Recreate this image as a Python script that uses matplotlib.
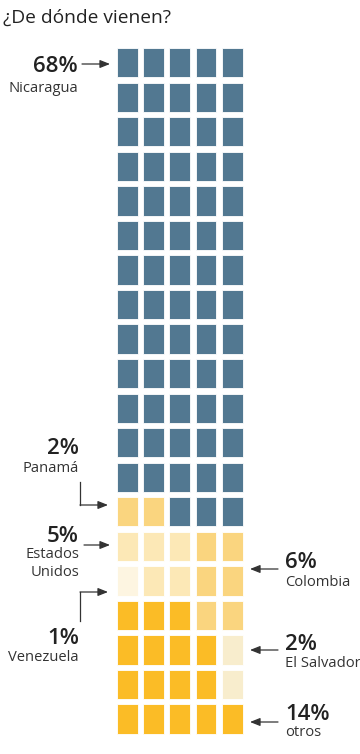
import matplotlib
matplotlib.use('Agg')
import matplotlib.pyplot as plt
from matplotlib.patches import Rectangle

# datos
paises = ['Nicaragua', 'Panamá', 'Estados\nUnidos', 'Venezuela', 'Colombia', 'El Salvador', 'otros']
porcentajes = [68, 2, 5, 1, 6, 2, 14]
codigos = ['N', 'P', 'U', 'V', 'C', 'S', 'O']
colores = ['#527891', '#FAD57F', '#FCE8B6', '#FDF5E1', '#FAD57F', '#F8EDCD', '#FBBC26']
# reparto de las celdas, fila por fila (5 columnas x 20 filas)
filas = ['NNNNN'] * 13 + ['PPNNN', 'UUUCC', 'VUUCC', 'OOOCC', 'OOOOS', 'OOOOS', 'OOOOO']

plt.rcParams['font.family'] = ['Open Sans', 'DejaVu Sans']

fig = plt.figure(figsize=(3.6, 7.54), dpi=100)
ax = fig.add_axes([0, 0, 1, 1])
ax.set_xlim(0, 360)
ax.set_ylim(754, 0)
ax.axis('off')

# geometria de la cuadricula (en pixeles)
x0, y0 = 117, 48
paso_x, paso_y = 26.2, 34.55
ancho, alto = 20.7, 29.3

for i, fila in enumerate(filas):
    for j, c in enumerate(fila):
        col = colores[codigos.index(c)]
        ax.add_patch(Rectangle((x0 + j * paso_x, y0 + i * paso_y), ancho, alto,
                               facecolor=col, edgecolor='white', linewidth=0.6))

ax.text(3, 23, '¿De dónde vienen?', fontsize=13.8, color='#222222', va='baseline')

oscuro = '#222222'
gris = '#333333'
flecha = dict(arrowstyle='-|>,head_length=0.6,head_width=0.24', color=gris, lw=0.9,
              shrinkA=0, shrinkB=0)


def etiqueta(k, x, y_pct, lado, y_nombre):
    ha = 'right' if lado == 'izq' else 'left'
    ax.text(x, y_pct, f'{porcentajes[k]}%', fontsize=16, fontweight='semibold', color=oscuro,
            ha=ha, va='baseline')
    for n, linea in enumerate(paises[k].split('\n')):
        ax.text(x, y_nombre + n * 18.5, linea, fontsize=10.6, color=gris, ha=ha,
                va='baseline')


# Nicaragua
etiqueta(0, 78, 72, 'izq', 92)
ax.annotate('', xy=(110, 64), xytext=(82, 64), arrowprops=flecha)

# Panamá
etiqueta(1, 79, 454, 'izq', 472)
ax.plot([80, 80], [482, 505], color=gris, lw=0.9)
ax.annotate('', xy=(108, 505), xytext=(80, 505), arrowprops=flecha)

# Estados Unidos
etiqueta(2, 79, 542, 'izq', 558)
ax.annotate('', xy=(110, 545), xytext=(84, 545), arrowprops=flecha)

# Venezuela
ax.plot([80, 80], [592, 621], color=gris, lw=0.9)
ax.annotate('', xy=(108, 592), xytext=(80, 592), arrowprops=flecha)
etiqueta(3, 79, 644, 'izq', 661)

# Colombia
etiqueta(4, 285, 568, 'der', 586)
ax.annotate('', xy=(250, 569), xytext=(278, 569), arrowprops=flecha)

# El Salvador
etiqueta(5, 285, 650, 'der', 667)
ax.annotate('', xy=(250, 650), xytext=(278, 650), arrowprops=flecha)

# otros
etiqueta(6, 285, 720, 'der', 736)
ax.annotate('', xy=(250, 722), xytext=(278, 722), arrowprops=flecha)

fig.savefig('out.png', dpi=100)
plt.close(fig)
